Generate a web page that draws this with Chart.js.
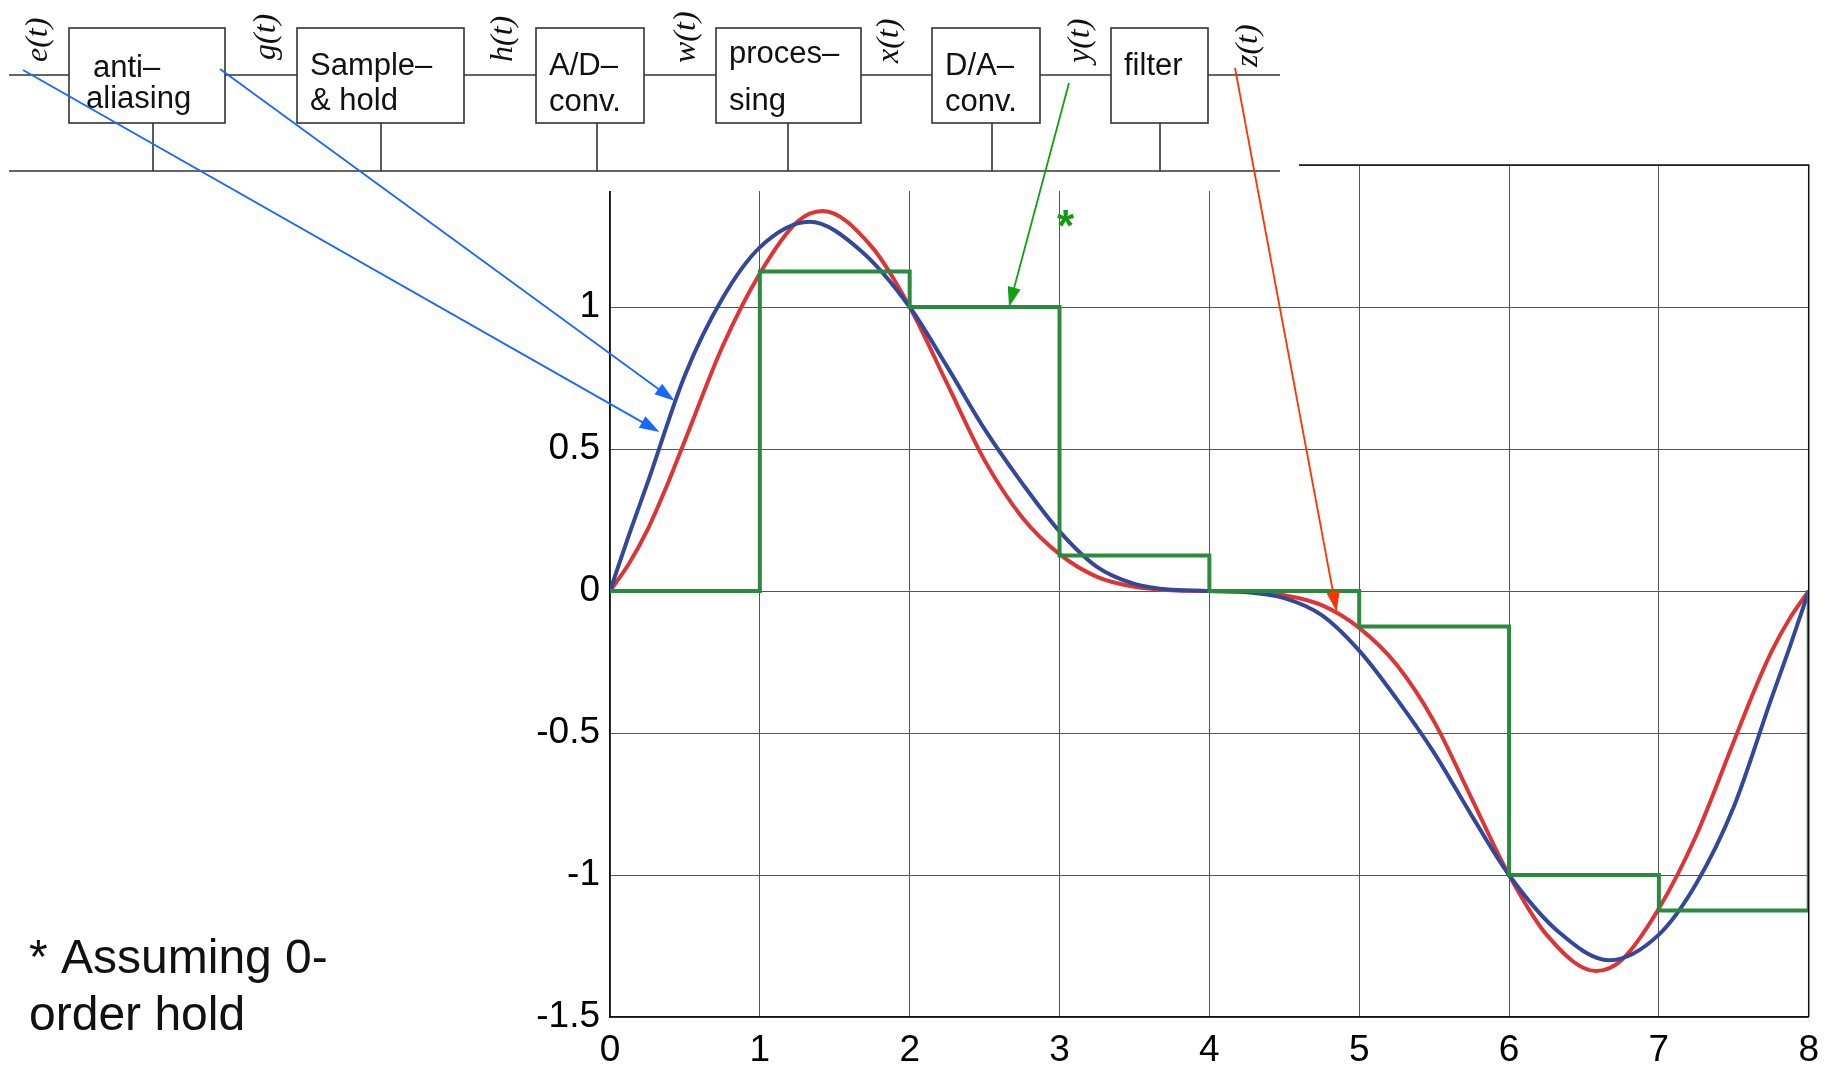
<!DOCTYPE html>
<html>
<head>
<meta charset="utf-8">
<title>Cadeia de amostragem</title>
<script src="https://cdn.jsdelivr.net/npm/chart.js@4.4.1/dist/chart.umd.min.js"></script>
<style>
  html, body { margin: 0; padding: 0; background: #fff; }
  canvas { display: block; }
</style>
</head>
<body>
<canvas id="grafico" width="1831" height="1066"></canvas>
<script>
// e(t) / g(t) - curva azul (tempos e valores)
const temposEntrada = [0, 0.125, 0.25, 0.5, 0.75, 1, 1.33, 1.67, 2, 2.25, 2.5, 2.75, 3, 3.25, 3.5, 3.75,
                       4, 4.25, 4.5, 4.75, 5, 5.25, 5.5, 5.75, 6, 6.33, 6.67, 7, 7.25, 7.5, 7.75, 7.875, 8];
const sinalEntrada = [0, 0.195, 0.38, 0.76, 1.03, 1.21, 1.30, 1.20, 1.00, 0.79, 0.57, 0.38, 0.21, 0.085, 0.025, 0.004,
                      0, -0.004, -0.025, -0.085, -0.21, -0.38, -0.57, -0.79, -1.00, -1.20, -1.30, -1.21, -1.03, -0.76, -0.38, -0.195, 0];

// z(t) - saída do filtro, curva vermelha
const temposFiltrado = [0, 0.125, 0.25, 0.375, 0.5, 0.75, 1, 1.25, 1.42, 1.75, 2, 2.25, 2.5, 2.75, 3, 3.25, 3.5, 3.75,
                        4, 4.25, 4.5, 4.75, 5, 5.25, 5.5, 5.75, 6, 6.25, 6.58, 6.75, 7, 7.25, 7.5, 7.625, 7.75, 7.875, 8];
const sinalFiltrado = [0, 0.095, 0.215, 0.365, 0.53, 0.86, 1.118, 1.30, 1.338, 1.21, 1.00, 0.73, 0.46, 0.26, 0.13, 0.05, 0.015, 0.003,
                       0, -0.003, -0.015, -0.05, -0.13, -0.26, -0.46, -0.73, -1.00, -1.21, -1.338, -1.30, -1.118, -0.86, -0.53, -0.365, -0.215, -0.095, 0];

// y(t) - retenção de ordem zero, degraus verdes
const instantesAmostra = [0, 1, 2, 3, 4, 5, 6, 7, 8];
const valoresRetidos = [0, 1.125, 1.0, 0.125, 0, -0.125, -1.0, -1.125, 0];

// Eixos
const ticksX = [0, 1, 2, 3, 4, 5, 6, 7, 8];
const ticksY = [-1.5, -1, -0.5, 0, 0.5, 1, 1.5];

// Blocos do diagrama: rótulo em duas linhas
const blocos = [
    { linhas: ['anti\u2013', 'aliasing'], x0: 69, x1: 225, lig: 153, tx: [93, 86], ty: [77, 108] },
    { linhas: ['Sample\u2013', '& hold'], x0: 297, x1: 464, lig: 381, tx: [310, 310], ty: [75, 110] },
    { linhas: ['A/D\u2013', 'conv.'], x0: 536, x1: 644, lig: 597, tx: [549, 549], ty: [75, 111] },
    { linhas: ['proces\u2013', 'sing'], x0: 716, x1: 861, lig: 788, tx: [729, 729], ty: [63, 110] },
    { linhas: ['D/A\u2013', 'conv.'], x0: 932, x1: 1040, lig: 992, tx: [945, 945], ty: [75, 111] },
    { linhas: ['filter'], x0: 1111, x1: 1208, lig: 1160, tx: [1124], ty: [75] }
];

// Nomes dos sinais (texto vertical)
const sinais = [
    { nome: 'e(t)', x: 39, y: 62 },
    { nome: 'g(t)', x: 267, y: 60 },
    { nome: 'h(t)', x: 504, y: 62 },
    { nome: 'w(t)', x: 687, y: 63 },
    { nome: 'x(t)', x: 890, y: 63 },
    { nome: 'y(t)', x: 1081, y: 63 },
    { nome: 'z(t)', x: 1249, y: 67 }
];

const fonteTexto = '"Liberation Sans", Arial, Helvetica, sans-serif';

function pontos(xs, ys) {
    return xs.map((x, i) => ({ x: x, y: ys[i] }));
}

// Desenha uma seta com ponta cheia
function seta(ctx, x1, y1, x2, y2, cor) {
    const ang = Math.atan2(y2 - y1, x2 - x1);
    const comp = 21, abertura = 0.32;
    ctx.strokeStyle = cor;
    ctx.fillStyle = cor;
    ctx.lineWidth = 1.8;
    ctx.beginPath();
    ctx.moveTo(x1, y1);
    ctx.lineTo(x2 - comp * 0.8 * Math.cos(ang), y2 - comp * 0.8 * Math.sin(ang));
    ctx.stroke();
    ctx.beginPath();
    ctx.moveTo(x2, y2);
    ctx.lineTo(x2 - comp * Math.cos(ang - abertura), y2 - comp * Math.sin(ang - abertura));
    ctx.lineTo(x2 - comp * Math.cos(ang + abertura), y2 - comp * Math.sin(ang + abertura));
    ctx.closePath();
    ctx.fill();
}

// Plugin que desenha o diagrama de blocos, as setas e as notas
const diagrama = {
    id: 'diagrama',
    afterDraw(chart) {
        const ctx = chart.ctx;
        const area = chart.chartArea;
        const sx = chart.scales.x, sy = chart.scales.y;
        ctx.save();

        // moldura de cima e da direita
        ctx.strokeStyle = '#111';
        ctx.lineWidth = 1.5;
        ctx.beginPath();
        ctx.moveTo(area.left, area.top);
        ctx.lineTo(area.right, area.top);
        ctx.lineTo(area.right, area.bottom);
        ctx.stroke();

        // fundo branco por trás do diagrama
        ctx.fillStyle = '#fff';
        ctx.fillRect(0, 0, 1299, 191);

        // linha do sinal e barramento
        ctx.strokeStyle = '#333';
        ctx.lineWidth = 1.6;
        ctx.beginPath();
        ctx.moveTo(9, 75); ctx.lineTo(1280, 75);
        ctx.moveTo(9, 171); ctx.lineTo(1280, 171);
        blocos.forEach(b => { ctx.moveTo(b.lig, 123); ctx.lineTo(b.lig, 171); });
        ctx.stroke();

        // caixas
        ctx.font = '31px ' + fonteTexto;
        ctx.textAlign = 'left';
        ctx.textBaseline = 'alphabetic';
        blocos.forEach(b => {
            ctx.fillStyle = '#fff';
            ctx.fillRect(b.x0, 28, b.x1 - b.x0, 95);
            ctx.strokeRect(b.x0, 28, b.x1 - b.x0, 95);
            ctx.fillStyle = '#111';
            b.linhas.forEach((txt, i) => ctx.fillText(txt, b.tx[i], b.ty[i]));
        });

        // nomes dos sinais, na vertical
        ctx.font = 'italic 32px "Liberation Serif", "DejaVu Serif", serif';
        ctx.textBaseline = 'middle';
        sinais.forEach(s => {
            ctx.save();
            ctx.translate(s.x, s.y);
            ctx.rotate(-Math.PI / 2);
            ctx.fillText(s.nome, 0, 0);
            ctx.restore();
        });

        // setas apontando para as curvas
        seta(ctx, 23, 70, sx.getPixelForValue(0.33), sy.getPixelForValue(0.56), '#1768ff');
        seta(ctx, 220, 69, sx.getPixelForValue(0.43), sy.getPixelForValue(0.67), '#1768ff');
        seta(ctx, 1069, 83, sx.getPixelForValue(2.663), sy.getPixelForValue(1.0), '#10a010');
        seta(ctx, 1235, 68, sx.getPixelForValue(4.85), sy.getPixelForValue(-0.073), '#ff3300');

        // asterisco verde
        ctx.fillStyle = '#149a14';
        ctx.font = 'bold 44px ' + fonteTexto;
        ctx.textAlign = 'center';
        ctx.textBaseline = 'alphabetic';
        ctx.fillText('*', sx.getPixelForValue(3.04), sy.getPixelForValue(1.325) + 26);

        // nota de rodapé
        ctx.fillStyle = '#111';
        ctx.font = '48px ' + fonteTexto;
        ctx.textAlign = 'left';
        ctx.fillText('* Assuming 0-', 29, 973);
        ctx.fillText('order hold', 29, 1030);

        ctx.restore();
    }
};

const ctxGrafico = document.getElementById('grafico').getContext('2d');

new Chart(ctxGrafico, {
    type: 'line',
    data: {
        datasets: [
            {
                label: 'y(t)',
                data: pontos(instantesAmostra, valoresRetidos),
                borderColor: '#2a8a3e',
                borderWidth: 4,
                stepped: 'before',
                pointRadius: 0,
                fill: false
            },
            {
                label: 'e(t), g(t)',
                data: pontos(temposEntrada, sinalEntrada),
                borderColor: '#33479b',
                borderWidth: 4,
                cubicInterpolationMode: 'monotone',
                pointRadius: 0,
                fill: false
            },
            {
                label: 'z(t)',
                data: pontos(temposFiltrado, sinalFiltrado),
                borderColor: '#dd3434',
                borderWidth: 4,
                cubicInterpolationMode: 'monotone',
                pointRadius: 0,
                fill: false
            }
        ]
    },
    options: {
        responsive: false,
        animation: false,
        devicePixelRatio: 1,
        layout: { padding: { left: 0, top: 165, right: 22, bottom: 0 } },
        plugins: {
            legend: { display: false },
            tooltip: { enabled: false }
        },
        scales: {
            x: {
                type: 'linear',
                min: 0,
                max: 8,
                afterFit: (scale) => { scale.height = 49; },
                afterBuildTicks: (scale) => { scale.ticks = ticksX.map(v => ({ value: v })); },
                ticks: {
                    color: '#000',
                    padding: 12,
                    maxRotation: 0,
                    font: { family: fonteTexto, size: 37 },
                    callback: (v) => String(v)
                },
                grid: { color: '#555', lineWidth: 1, drawTicks: false },
                border: { color: '#111', width: 1.5 }
            },
            y: {
                type: 'linear',
                min: -1.5,
                max: 1.5,
                afterFit: (scale) => { scale.width = 610; },
                afterBuildTicks: (scale) => { scale.ticks = ticksY.map(v => ({ value: v })); },
                ticks: {
                    color: '#000',
                    padding: 10,
                    font: { family: fonteTexto, size: 37 },
                    callback: (v) => String(v)
                },
                grid: { color: '#555', lineWidth: 1, drawTicks: false },
                border: { color: '#111', width: 1.5 }
            }
        }
    },
    plugins: [diagrama]
});
</script>
</body>
</html>
